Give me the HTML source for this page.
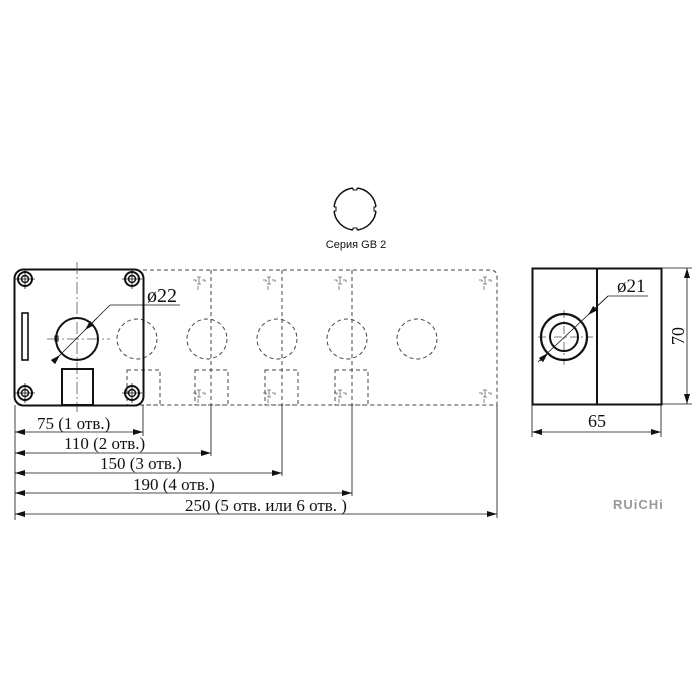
<!DOCTYPE html>
<html><head><meta charset="utf-8"><style>
html,body{margin:0;padding:0;background:#fff;width:700px;height:700px;overflow:hidden}
svg{display:block}
text{font-family:"Liberation Serif",serif;fill:#111}
</style></head><body>
<svg width="700" height="700" viewBox="0 0 700 700" xmlns="http://www.w3.org/2000/svg">
<defs>
<marker id="a" viewBox="0 0 10 6" refX="10" refY="3" markerWidth="10" markerHeight="6" orient="auto-start-reverse" markerUnits="userSpaceOnUse"><path d="M0,0L10,3L0,6z" fill="#111"/></marker>
<g id="scr"><circle r="7" fill="none" stroke="#111" stroke-width="2"/><circle r="3.5" fill="none" stroke="#111" stroke-width="1.5"/><line x1="0" y1="-10" x2="0" y2="10" stroke="#111" stroke-width="0.8"/><line x1="-10" y1="0" x2="10" y2="0" stroke="#111" stroke-width="0.8"/></g>
<g id="mk" stroke="#666" stroke-width="0.8" fill="none"><path d="M-6,-2h3v2M-2,-5h4M0,-5v7M-2,2h4M3,-2h3v2M-1,4v4"/></g>
</defs>

<!-- Series GB2 -->
<circle cx="355" cy="209" r="21" fill="none" stroke="#111" stroke-width="1.5"/>
<g stroke="#fff" stroke-width="3"><line x1="353" y1="188" x2="357" y2="188"/><line x1="353" y1="230" x2="357" y2="230"/><line x1="334" y1="207" x2="334" y2="211"/><line x1="376" y1="207" x2="376" y2="211"/></g>
<g stroke="#111" stroke-width="1" fill="none"><path d="M353,188v2h4v-2M353,230v-2h4v2M334,207h2v4h-2M376,207h-2v4h2"/></g>
<text x="356" y="248" font-size="11" text-anchor="middle" style="font-family:'Liberation Sans',sans-serif">Серия GB 2</text>

<!-- dashed extension -->
<g fill="none" stroke="#444" stroke-width="1" stroke-dasharray="4,3">
<path d="M143,270H490Q497,270 497,277V405H143"/>
<line x1="211" y1="270" x2="211" y2="405"/><line x1="282" y1="270" x2="282" y2="405"/><line x1="352" y1="270" x2="352" y2="405"/>
<circle cx="137" cy="339" r="20"/><circle cx="207" cy="339" r="20"/><circle cx="277" cy="339" r="20"/><circle cx="347" cy="339" r="20"/><circle cx="417" cy="339" r="20"/>
<rect x="127" y="370" width="33" height="35"/><rect x="195" y="370" width="33" height="35"/><rect x="265" y="370" width="33" height="35"/><rect x="335" y="370" width="33" height="35"/>
</g>
<g><use href="#mk" x="199" y="282"/><use href="#mk" x="269" y="282"/><use href="#mk" x="340" y="282"/><use href="#mk" x="485" y="282"/>
<use href="#mk" x="199" y="395"/><use href="#mk" x="269" y="395"/><use href="#mk" x="340" y="395"/><use href="#mk" x="485" y="395"/></g>

<!-- main box -->
<rect x="14.5" y="269.5" width="129" height="136" rx="9" fill="none" stroke="#111" stroke-width="2"/>
<g stroke="#555" stroke-width="0.8" stroke-dasharray="12,3,2,3"><line x1="77" y1="262" x2="77" y2="412"/><line x1="47" y1="339" x2="110" y2="339"/></g>
<circle cx="77" cy="339" r="21" fill="none" stroke="#111" stroke-width="2"/>
<rect x="55" y="336" width="3" height="5" fill="none" stroke="#111" stroke-width="1"/>
<rect x="22" y="313" width="6" height="47" fill="none" stroke="#111" stroke-width="1.6"/>
<rect x="62" y="369" width="31" height="36" fill="none" stroke="#111" stroke-width="2"/>
<use href="#scr" x="25" y="279"/><use href="#scr" x="132" y="279"/><use href="#scr" x="25" y="393"/><use href="#scr" x="132" y="393"/>
<line x1="53" y1="362" x2="110" y2="305" stroke="#111" stroke-width="0.8"/>
<line x1="85" y1="330" x2="97" y2="318" stroke="#111" stroke-width="0.8" marker-start="url(#a)"/>
<line x1="54" y1="361" x2="60" y2="355" stroke="#111" stroke-width="0.8" marker-end="url(#a)"/>
<line x1="110" y1="305" x2="180" y2="305" stroke="#111" stroke-width="0.8"/>
<text x="147" y="302" font-size="20">ø22</text>

<!-- dimension lines -->
<g stroke="#111" stroke-width="0.8" fill="none">
<line x1="15" y1="405" x2="15" y2="520"/>
<line x1="143" y1="405" x2="143" y2="436"/>
<line x1="211" y1="405" x2="211" y2="456"/>
<line x1="282" y1="405" x2="282" y2="476"/>
<line x1="352" y1="405" x2="352" y2="496"/>
<line x1="497" y1="405" x2="497" y2="518"/>
<line x1="15" y1="432" x2="143" y2="432" marker-start="url(#a)" marker-end="url(#a)"/>
<line x1="15" y1="453" x2="211" y2="453" marker-start="url(#a)" marker-end="url(#a)"/>
<line x1="15" y1="473" x2="282" y2="473" marker-start="url(#a)" marker-end="url(#a)"/>
<line x1="15" y1="493" x2="352" y2="493" marker-start="url(#a)" marker-end="url(#a)"/>
<line x1="15" y1="514" x2="497" y2="514" marker-start="url(#a)" marker-end="url(#a)"/>
</g>
<g font-size="17">
<text x="37" y="429">75 (1 отв.)</text>
<text x="64" y="449">110 (2 отв.)</text>
<text x="100" y="469">150 (3 отв.)</text>
<text x="133" y="490">190 (4 отв.)</text>
<text x="185" y="511">250 (5 отв. или  6 отв. )</text>
</g>

<!-- side view -->
<rect x="532.5" y="268.5" width="129" height="136" fill="none" stroke="#111" stroke-width="2"/>
<line x1="597" y1="268" x2="597" y2="405" stroke="#111" stroke-width="2"/>
<g stroke="#555" stroke-width="0.8" stroke-dasharray="8,3,2,3"><line x1="564" y1="310" x2="564" y2="365"/><line x1="538" y1="337" x2="593" y2="337"/></g>
<circle cx="564" cy="337" r="23" fill="none" stroke="#111" stroke-width="2.2"/>
<circle cx="564" cy="337" r="14" fill="none" stroke="#111" stroke-width="2"/>
<line x1="538" y1="362" x2="608" y2="296" stroke="#111" stroke-width="0.8"/>
<line x1="588" y1="315" x2="608" y2="296" stroke="#111" stroke-width="0.8" marker-start="url(#a)"/>
<line x1="548" y1="353" x2="540" y2="361" stroke="#111" stroke-width="0.8" marker-start="url(#a)"/>
<line x1="608" y1="296" x2="648" y2="296" stroke="#111" stroke-width="0.8"/>
<text x="617" y="292" font-size="19">ø21</text>
<g stroke="#111" stroke-width="0.8">
<line x1="661" y1="268" x2="692" y2="268"/><line x1="661" y1="404" x2="692" y2="404"/>
<line x1="687" y1="268" x2="687" y2="404" marker-start="url(#a)" marker-end="url(#a)"/>
<line x1="532" y1="404" x2="532" y2="437"/><line x1="661" y1="404" x2="661" y2="437"/>
<line x1="532" y1="432" x2="661" y2="432" marker-start="url(#a)" marker-end="url(#a)"/>
</g>
<text x="588" y="427" font-size="18">65</text>
<text transform="translate(684,336) rotate(-90)" font-size="18" text-anchor="middle">70</text>

<text x="613" y="509" font-size="13" font-weight="bold" style="font-family:'Liberation Sans',sans-serif;fill:#999;letter-spacing:1px">RUiCHi</text>
</svg>
</body></html>
